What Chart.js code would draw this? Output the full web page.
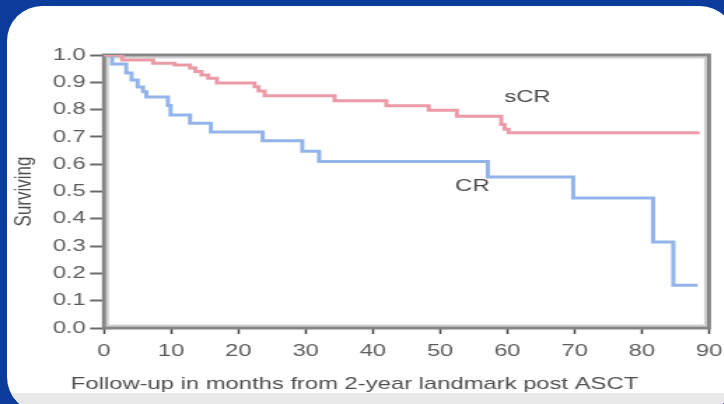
<!DOCTYPE html>
<html>
<head>
<meta charset="utf-8">
<script src="https://cdn.jsdelivr.net/npm/chart.js@4.4.1/dist/chart.umd.min.js"></script>
<style>
  html, body { margin: 0; padding: 0; }
  body { width: 724px; height: 404px; overflow: hidden; background: #0b3c9b; position: relative; }
  .panel { position: absolute; left: 7px; top: 6px; width: 728px; height: 406px; background: #fff;
           border-radius: 35px; overflow: hidden; }
  .band { position: absolute; left: 0; top: 387px; width: 100%; height: 30px; background: #e8e8e8; }
  /* source picture is stretched sideways, so the chart is drawn narrow and scaled */
  .wrap { position: absolute; left: 0; top: 0; width: 517px; height: 404px;
          transform: scaleX(1.4); transform-origin: 0 0; }
</style>
</head>
<body>
<div class="panel"><div class="band"></div></div>
<div class="wrap"><canvas id="kmChart" width="517" height="404"></canvas></div>
<script>
// Kaplan-Meier survival (months, proportion surviving)
const sCRMonths = [0, 2.7, 7.3, 10.5, 12.8, 13.6, 14.5, 15.5, 16.8, 22.4, 23.0, 23.9, 34.3, 42.0, 48.3, 52.5, 59.1, 59.6, 60.2, 88.6];
const sCRSurv   = [1.0, 0.982, 0.97, 0.963, 0.952, 0.94, 0.927, 0.915, 0.897, 0.884, 0.868, 0.851, 0.832, 0.814, 0.798, 0.776, 0.745, 0.728, 0.715, 0.715];

const crMonths = [0, 1.2, 3.3, 4.1, 5.0, 5.8, 6.3, 9.5, 9.9, 12.8, 15.9, 23.6, 29.5, 32.0, 57.1, 69.8, 81.7, 84.7, 88.3];
const crSurv   = [1.0, 0.967, 0.934, 0.908, 0.883, 0.865, 0.846, 0.815, 0.78, 0.75, 0.718, 0.686, 0.647, 0.61, 0.553, 0.476, 0.315, 0.157, 0.157];

const xTicks = [0, 10, 20, 30, 40, 50, 60, 70, 80, 90];
const yTicks = [0, 0.1, 0.2, 0.3, 0.4, 0.5, 0.6, 0.7, 0.8, 0.9, 1.0];

// curve labels placed in data units
const curveLabels = [
  { text: 'sCR', x: 63, y: 0.846 },
  { text: 'CR', x: 54.8, y: 0.52 }
];

const FONT = "'Liberation Sans', Arial, sans-serif";

const toPoints = (xs, ys) => xs.map((m, i) => ({ x: m, y: ys[i] }));

// box round the plot, drawn under the curves
const framePlugin = {
  id: 'frame',
  beforeDatasetsDraw(chart) {
    const { ctx, chartArea: a } = chart;
    ctx.save();
    ctx.strokeStyle = '#d0d0d0';
    ctx.lineWidth = 2;
    ctx.strokeRect(a.left + 2.5, a.top + 2.5, a.right - a.left - 5, a.bottom - a.top - 5);
    ctx.strokeStyle = '#858585';
    ctx.lineWidth = 3;
    ctx.strokeRect(a.left, a.top, a.right - a.left, a.bottom - a.top);
    ctx.restore();
  }
};

const labelPlugin = {
  id: 'curveLabels',
  afterDatasetsDraw(chart) {
    const { ctx, scales } = chart;
    ctx.save();
    ctx.font = '17px ' + FONT;
    ctx.fillStyle = '#4a4a4a';
    ctx.textAlign = 'center';
    ctx.textBaseline = 'middle';
    curveLabels.forEach(l => {
      ctx.fillText(l.text, scales.x.getPixelForValue(l.x), scales.y.getPixelForValue(l.y));
    });
    ctx.restore();
  }
};

new Chart(document.getElementById('kmChart'), {
  type: 'line',
  data: {
    datasets: [
      {
        label: 'sCR',
        data: toPoints(sCRMonths, sCRSurv),
        borderColor: '#eb9ba7',
        borderWidth: 3,
        stepped: 'before',
        pointRadius: 0,
        fill: false
      },
      {
        label: 'CR',
        data: toPoints(crMonths, crSurv),
        borderColor: '#93b4ea',
        borderWidth: 3,
        stepped: 'before',
        pointRadius: 0,
        fill: false
      }
    ]
  },
  options: {
    responsive: false,
    animation: false,
    layout: { padding: { top: 55, right: 10.6, bottom: 9, left: 0 } },
    plugins: {
      legend: { display: false },
      tooltip: { enabled: false },
      title: {
        display: true,
        position: 'bottom',
        text: 'Follow-up in months from 2-year landmark post ASCT',
        color: '#4f4f4f',
        font: { family: FONT, size: 17, weight: 'normal', lineHeight: 1.2 },
        padding: 0
      }
    },
    scales: {
      x: {
        type: 'linear',
        min: 0,
        max: 90,
        afterBuildTicks: s => { s.ticks = xTicks.map(v => ({ value: v })); },
        // the "90" label may run to the picture edge, as in the source
        afterFit: s => { s.height = 46.6; s.paddingRight = 0; s.paddingLeft = 0; },
        grid: { drawOnChartArea: false, tickLength: 6, tickWidth: 1.5, tickColor: '#444' },
        border: { display: false },
        ticks: { color: '#5c5c5c', padding: 7, font: { family: FONT, size: 17 } }
      },
      y: {
        min: 0,
        max: 1,
        afterBuildTicks: s => { s.ticks = yTicks.map(v => ({ value: v })); },
        afterFit: s => { s.width = 74.3; },
        grid: { drawOnChartArea: false, tickLength: 10, tickWidth: 2, tickColor: '#6a6a6a' },
        border: { display: false },
        ticks: {
          color: '#5c5c5c',
          padding: 3,
          font: { family: FONT, size: 17 },
          callback: v => Number(v).toFixed(1)
        },
        title: {
          display: true,
          text: 'Surviving',
          color: '#4f4f4f',
          font: { family: FONT, size: 17 },
          padding: { top: 7, bottom: 0 }
        }
      }
    }
  },
  plugins: [framePlugin, labelPlugin]
});
</script>
</body>
</html>
